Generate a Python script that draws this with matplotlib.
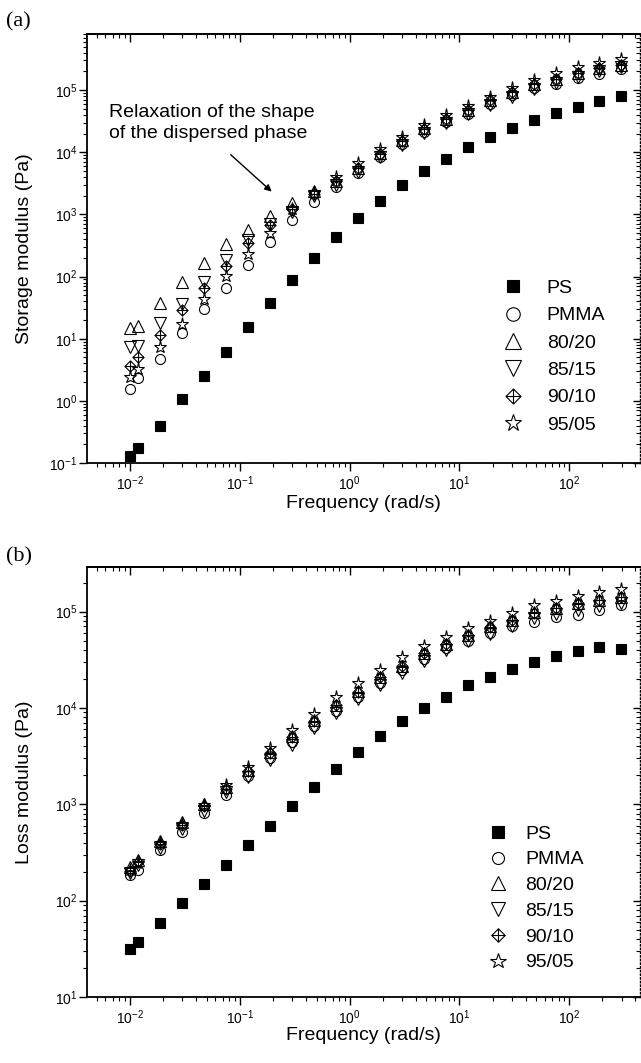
import matplotlib
matplotlib.use('Agg')
import matplotlib.pyplot as plt
from matplotlib.path import Path
from matplotlib.ticker import NullFormatter

plt.rcParams['font.family'] = ['Liberation Sans', 'DejaVu Sans']
plt.rcParams['mathtext.fontset'] = 'custom'
plt.rcParams['mathtext.rm'] = 'Liberation Sans'
plt.rcParams['mathtext.it'] = 'Liberation Sans:italic'
plt.rcParams['mathtext.bf'] = 'Liberation Sans:bold'

# Frequency sweep (rad/s)
freq = [0.01, 0.0119, 0.0188, 0.0298, 0.0473, 0.075, 0.119, 0.188, 0.298, 0.473,
        0.75, 1.19, 1.88, 2.98, 4.73, 7.5, 11.9, 18.8, 29.8, 47.3, 75, 119, 188, 298]

labels = ['PS', 'PMMA', '80/20', '85/15', '90/10', '95/05']

# Storage modulus G' (Pa)
g1_ps = [0.132, 0.176, 0.40, 1.06, 2.5, 6.2, 15.3, 37, 89.5, 200, 434, 869, 1650, 2950,
         4970, 7830, 12100, 17500, 24400, 32900, 42600, 54000, 66500, 80000]
g1_pmma = [1.58, 2.3, 4.8, 12.5, 30.5, 66, 156, 360, 828, 1590, 2800, 4700, 8300, 13500,
           21000, 30500, 42000, 60000, 82000, 108000, 125000, 155000, 185000, 215000]
g1_8020 = [14.9, 16.2, 38, 81, 166, 335, 571, 946, 1530, 2370, 3500, 5600, 9700, 15500,
           24500, 34500, 48000, 69000, 94000, 124000, 150000, 186000, 224000, 253000]
g1_8515 = [7.4, 7.6, 17.9, 35.8, 82, 183, 385, 713, 1100, 2000, 2950, 4830, 8430, 13000,
           20100, 29100, 40600, 57300, 78000, 103000, 130000, 165000, 200000, 235000]
g1_9010 = [3.7, 5.1, 11.3, 28.7, 66, 150, 348, 670, 1245, 2100, 3400, 5500, 9500, 15300,
           24000, 34000, 47500, 69000, 94000, 124000, 152000, 188000, 226000, 255000]
g1_9505 = [2.4, 3.2, 7.4, 17.5, 43, 101, 234, 510, 1245, 2220, 4020, 6600, 11100, 17700,
           27300, 39500, 55200, 78000, 110000, 145000, 186000, 232000, 276000, 312000]

# Loss modulus G'' (Pa)
g2_ps = [31.2, 37.2, 59, 93.8, 148, 236, 378, 596, 960, 1510, 2330, 3520, 5150, 7280,
         9930, 13100, 17300, 21100, 25600, 30000, 34700, 39100, 43300, 41000]
g2_pmma = [185, 210, 335, 520, 810, 1260, 1950, 3000, 4400, 6500, 9300, 13000, 18000, 24500,
           32500, 41500, 50000, 60000, 70000, 78700, 87500, 92500, 104000, 117000]
g2_8020 = [225, 265, 420, 660, 1000, 1520, 2250, 3450, 5100, 7450, 10800, 15000, 21000, 27500,
           37200, 46500, 57500, 70000, 82000, 98000, 108000, 122000, 132000, 141000]
g2_8515 = [195, 235, 355, 560, 860, 1330, 1900, 2880, 4130, 6150, 8800, 12300, 17100, 23300,
           31000, 40000, 48900, 58600, 71000, 85000, 94600, 104000, 113000, 124000]
g2_9010 = [205, 250, 390, 610, 950, 1450, 2200, 3400, 5050, 7400, 10700, 14800, 20900, 27300,
           37000, 46200, 57300, 69800, 82000, 97700, 108000, 122000, 132000, 141000]
g2_9505 = [208, 248, 399, 625, 985, 1590, 2450, 3870, 5920, 8670, 13000, 18300, 24800, 33600,
           44100, 55000, 67200, 80000, 97700, 117000, 129000, 146000, 161000, 171000]

# diamond with a cross inside (Origin style)
dplus = Path([(0, 1), (1, 0), (0, -1), (-1, 0), (0, 1), (0, 1), (0, -1), (-1, 0), (1, 0)],
             [Path.MOVETO, Path.LINETO, Path.LINETO, Path.LINETO, Path.CLOSEPOLY,
              Path.MOVETO, Path.LINETO, Path.MOVETO, Path.LINETO])

styles = [dict(marker='s', ms=6.8, mfc='black', mec='black'),
          dict(marker='o', ms=7.2, mfc='none', mec='black'),
          dict(marker='^', ms=8.2, mfc='none', mec='black'),
          dict(marker='v', ms=8.2, mfc='none', mec='black'),
          dict(marker=dplus, ms=8.0, mfc='none', mec='black'),
          dict(marker='*', ms=9.5, mfc='none', mec='black')]


def draw_panel(ax, series, ylim, ylabel, markerscale, leg_anchor, leg_pad, leg_space):
    for vals, st, lab in zip(series, styles, labels):
        ax.plot(freq, vals, ls='none', mew=0.8, label=lab, **st)

    ax.set_xscale('log')
    ax.set_yscale('log')
    ax.set_xlim(0.0041, 435)
    ax.set_ylim(*ylim)

    ax.tick_params(axis='both', which='major', direction='out', length=5.5, width=1, labelsize=10)
    ax.tick_params(axis='both', which='minor', direction='out', length=3, width=0.8)
    ax.tick_params(axis='x', pad=3)
    ax.tick_params(axis='y', pad=1.5)
    ax.xaxis.set_minor_formatter(NullFormatter())
    ax.yaxis.set_minor_formatter(NullFormatter())
    for s in ['left', 'bottom', 'top']:
        ax.spines[s].set_linewidth(1.3)
    ax.spines['right'].set_visible(False)

    # inward ticks on top and right
    top = ax.secondary_xaxis('top')
    top.tick_params(which='major', direction='in', length=6, width=1, labeltop=False)
    top.tick_params(which='minor', direction='in', length=3, width=0.8)
    top.spines['top'].set_linewidth(1.3)
    right = ax.secondary_yaxis('right')
    right.tick_params(which='major', direction='in', length=5, width=1, labelright=False)
    right.tick_params(which='minor', direction='in', length=3, width=0.8)
    right.spines['right'].set_linestyle(':')
    right.spines['right'].set_linewidth(1.0)

    ax.set_xlabel('Frequency (rad/s)', fontsize=14)
    ax.set_ylabel(ylabel, fontsize=14)
    ax.yaxis.set_label_coords(-0.098, 0.5)

    ax.legend(loc='upper left', bbox_to_anchor=leg_anchor, frameon=False, fontsize=14,
              markerscale=markerscale, handlelength=1.0, handletextpad=leg_pad,
              labelspacing=leg_space, borderpad=0, borderaxespad=0)


fig = plt.figure(figsize=(6.41, 10.63), dpi=100)
W, H = 641.0, 1063.0
ax1 = fig.add_axes([87.3 / W, 1 - 463 / H, (639.5 - 87.3) / W, (463 - 34) / H])
ax2 = fig.add_axes([87.3 / W, 1 - 997 / H, (639.5 - 87.3) / W, (997 - 567) / H])

draw_panel(ax1, [g1_ps, g1_pmma, g1_8020, g1_8515, g1_9010, g1_9505], (0.1, 8e5),
           'Storage modulus (Pa)', 1.35, (0.753, 0.428), 1.25, 0.5)
ax1.xaxis.set_label_coords(0.5, -0.075)
draw_panel(ax2, [g2_ps, g2_pmma, g2_8020, g2_8515, g2_9010, g2_9505], (10, 2.9e5),
           'Loss modulus (Pa)', 1.2, (0.726, 0.40), 0.9, 0.42)
ax2.xaxis.set_label_coords(0.5, -0.07)

ax1.annotate('Relaxation of the shape\nof the dispersed phase',
             xy=(0.204, 2170), xytext=(0.0064, 29100), textcoords='data',
             ha='left', va='center', fontsize=14, linespacing=1.3)
ax1.annotate('', xy=(0.204, 2170), xytext=(0.0794, 9770),
             arrowprops=dict(arrowstyle='-|>', lw=1.0, color='black', mutation_scale=10))

fig.text(6 / W, 1 - 22 / H, '(a)', fontsize=16, family=['Liberation Serif'], va='center', ha='left')
fig.text(6 / W, 1 - 557 / H, '(b)', fontsize=16, family=['Liberation Serif'], va='center', ha='left')

fig.savefig('out.png', dpi=100)
